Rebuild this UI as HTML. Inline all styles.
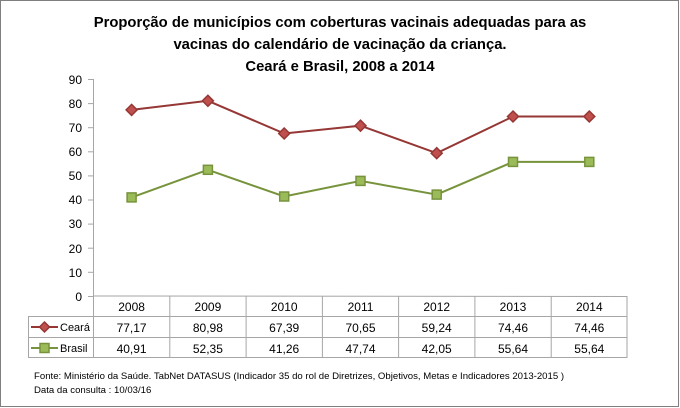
<!DOCTYPE html>
<html><head><meta charset="utf-8"><style>
body{margin:0;background:#fff;}
svg{display:block;font-family:"Liberation Sans",sans-serif;}
</style></head><body>
<svg width="680" height="408" viewBox="0 0 680 408">
<rect x="0.5" y="0.5" width="678" height="406" fill="#fff" stroke="#7f7f7f"/>
<g font-weight="bold" font-size="14.8" text-anchor="middle" fill="#000">
<text x="340" y="27">Proporção de municípios com coberturas vacinais adequadas para as</text>
<text x="340" y="49">vacinas do calendário de vacinação da criança.</text>
<text x="340" y="71">Ceará e Brasil, 2008 a 2014</text>
</g>
<g stroke="#a6a6a6" stroke-width="1">
<line x1="93.5" y1="79" x2="93.5" y2="296"/>
<line x1="88" y1="79.5" x2="93" y2="79.5"/><line x1="88" y1="103.6" x2="93" y2="103.6"/>
<line x1="88" y1="127.7" x2="93" y2="127.7"/><line x1="88" y1="151.8" x2="93" y2="151.8"/>
<line x1="88" y1="175.9" x2="93" y2="175.9"/><line x1="88" y1="200" x2="93" y2="200"/>
<line x1="88" y1="224.1" x2="93" y2="224.1"/><line x1="88" y1="248.2" x2="93" y2="248.2"/>
<line x1="88" y1="272.3" x2="93" y2="272.3"/><line x1="88" y1="296.5" x2="93" y2="296.5"/>
</g>
<g font-size="12" text-anchor="end" fill="#000">
<text x="82" y="84">90</text><text x="82" y="108">80</text><text x="82" y="132">70</text>
<text x="82" y="156">60</text><text x="82" y="180">50</text><text x="82" y="204">40</text>
<text x="82" y="228">30</text><text x="82" y="253">20</text><text x="82" y="277">10</text>
<text x="82" y="301">0</text>
</g>
<g stroke="#a6a6a6" fill="none">
<rect x="28.5" y="316.5" width="598.5" height="41"/>
<line x1="93.5" y1="296" x2="627" y2="296.5"/>
<line x1="627" y1="296" x2="627" y2="358"/>
<line x1="28" y1="337.5" x2="627" y2="337.5"/>
<line x1="93.5" y1="296" x2="93.5" y2="358"/>
<line x1="169.8" y1="296" x2="169.8" y2="358"/><line x1="246.1" y1="296" x2="246.1" y2="358"/>
<line x1="322.4" y1="296" x2="322.4" y2="358"/><line x1="398.6" y1="296" x2="398.6" y2="358"/>
<line x1="474.9" y1="296" x2="474.9" y2="358"/><line x1="551.2" y1="296" x2="551.2" y2="358"/>
</g>
<g font-size="12" text-anchor="middle" fill="#000">
<text x="131.6" y="311">2008</text><text x="207.9" y="311">2009</text><text x="284.2" y="311">2010</text>
<text x="360.5" y="311">2011</text><text x="436.7" y="311">2012</text><text x="513" y="311">2013</text><text x="589.3" y="311">2014</text>
<text x="131.6" y="332">77,17</text><text x="207.9" y="332">80,98</text><text x="284.2" y="332">67,39</text>
<text x="360.5" y="332">70,65</text><text x="436.7" y="332">59,24</text><text x="513" y="332">74,46</text><text x="589.3" y="332">74,46</text>
<text x="131.6" y="353">40,91</text><text x="207.9" y="353">52,35</text><text x="284.2" y="353">41,26</text>
<text x="360.5" y="353">47,74</text><text x="436.7" y="353">42,05</text><text x="513" y="353">55,64</text><text x="589.3" y="353">55,64</text>
</g>
<g font-size="11" fill="#000"><text x="60" y="331">Ceará</text><text x="60" y="352">Brasil</text></g>
<line x1="31" y1="327" x2="58" y2="327" stroke="#953735" stroke-width="2"/>
<polygon points="44.5,322 49.5,327 44.5,332 39.5,327" fill="#c0504d" stroke="#953735" stroke-width="1.5"/>
<line x1="31" y1="348" x2="58" y2="348" stroke="#77933c" stroke-width="2"/>
<rect x="40" y="343.5" width="9" height="9" fill="#9bbb59" stroke="#77933c" stroke-width="1.5"/>
<polyline fill="none" stroke="#953735" stroke-width="2" points="131.6,109.9 207.9,100.8 284.2,133.5 360.5,125.7 436.7,153.2 513,116.5 589.3,116.5"/>
<g fill="#c0504d" stroke="#953735" stroke-width="1.5">
<polygon points="131.6,104.4 137.1,109.9 131.6,115.4 126.1,109.9"/>
<polygon points="207.9,95.3 213.4,100.8 207.9,106.3 202.4,100.8"/>
<polygon points="284.2,128 289.7,133.5 284.2,139 278.7,133.5"/>
<polygon points="360.5,120.2 366,125.7 360.5,131.2 355,125.7"/>
<polygon points="436.7,147.7 442.2,153.2 436.7,158.7 431.2,153.2"/>
<polygon points="513,111 518.5,116.5 513,122 507.5,116.5"/>
<polygon points="589.3,111 594.8,116.5 589.3,122 583.8,116.5"/>
</g>
<polyline fill="none" stroke="#77933c" stroke-width="2" points="131.6,197.4 207.9,169.8 284.2,196.5 360.5,180.9 436.7,194.6 513,161.9 589.3,161.9"/>
<g fill="#9bbb59" stroke="#77933c" stroke-width="1.5">
<rect x="127.1" y="192.9" width="9" height="9"/><rect x="203.4" y="165.3" width="9" height="9"/>
<rect x="279.7" y="192" width="9" height="9"/><rect x="356" y="176.4" width="9" height="9"/>
<rect x="432.2" y="190.1" width="9" height="9"/><rect x="508.5" y="157.4" width="9" height="9"/>
<rect x="584.8" y="157.4" width="9" height="9"/>
</g>
<g font-size="9.6" fill="#000">
<text x="34" y="379">Fonte: Ministério da Saúde. TabNet DATASUS (Indicador 35 do rol de Diretrizes, Objetivos, Metas e Indicadores 2013-2015 )</text>
<text x="34" y="393">Data da consulta : 10/03/16</text>
</g>
</svg>
</body></html>
